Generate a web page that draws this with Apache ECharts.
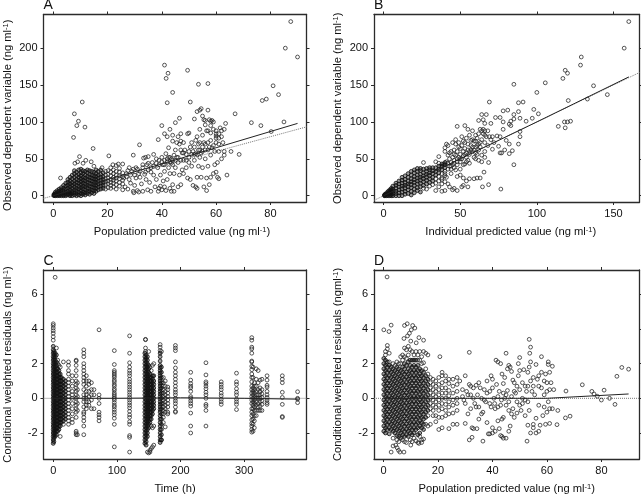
<!DOCTYPE html>
<html>
<head>
<meta charset="utf-8">
<style>html,body{margin:0;background:#fff}#chart{width:641px;height:495px}</style>
<script src="https://cdn.jsdelivr.net/npm/echarts@6/dist/echarts.min.js"></script>
</head>
<body>
<div id="chart"></div>
<script>
const popDenseA = [[0.3,[0,1,2]],[0.8,[0,1,3,5]],[1.5,[0,2,4,7]],[2.2,[0,1,3,6,9]],[3,[0,2,5,8,11]],[3.8,[0,1,4,7,10,14]],[4.6,[0,2,5,9,13,17]],[5.4,[1,3,6,10,14,18,22]],[6.2,[0,2,5,8,12,16,20,25]],[7,[0,3,6,10,14,18,23,28]],[7.8,[1,4,8,12,16,20,25,30,34]],[8.6,[0,3,6,10,14,18,22,27,32]],[9.4,[1,5,9,13,17,21,25,29,35]],[10.2,[0,3,7,11,15,19,23,27,31,36]],[11,[2,5,9,13,17,21,25,30,34]],[11.8,[1,4,8,12,16,20,24,28,33]],[12.6,[3,6,10,14,18,22,26,31,35]],[13.4,[2,6,9,13,17,21,25,29,34]],[14.2,[4,8,12,16,20,24,28,33]],[15,[3,7,11,15,19,23,27,32]],[15.8,[6,10,14,18,22,26,30,35]],[16.6,[8,12,16,20,24,28,33]],[17.5,[9,13,17,21,25,29,35]],[18.4,[10,14,18,22,26,31]]];
const popSparseA = [[19.3,9],[19.3,15],[19.3,19],[19.3,23],[19.3,28],[19.3,33],[20.2,11],[20.2,16],[20.2,20],[20.2,24],[20.2,29],[20.2,34],[21.2,10],[21.2,14],[21.2,18],[21.2,22],[21.2,27],[21.2,32],[21.2,38],[22.2,12],[22.2,17],[22.2,21],[22.2,25],[22.2,30],[22.2,35],[23.2,9],[23.2,15],[23.2,20],[23.2,24],[23.2,28],[23.2,33],[23.2,41],[24.4,13],[24.4,18],[24.4,23],[24.4,27],[24.4,32],[24.4,37],[25.6,8],[25.6,16],[25.6,21],[25.6,26],[25.6,31],[25.6,43],[87.5,236],[85.5,200],[90,188],[41,177],[42.3,166],[41.6,159],[49.5,170],[44,140],[53.5,151],[57,152],[42,126],[50.5,127],[10.7,127],[7.8,111],[9.3,101],[8.7,95],[11.7,93],[7.5,79],[14.7,64],[9.7,53],[2.7,24],[81,149],[83,137],[78.5,131],[77,129],[67,111],[73,99],[76.5,95],[80.3,87],[85,100],[65.5,60],[68.5,56],[63,60],[64,28],[31.8,69],[20.5,54],[29.5,55],[46.5,105],[43,90],[40,95],[41,84],[38.7,76],[45,99],[8,44],[9,46],[11,44],[12,48],[14,46],[15,40],[18,38],[22,42],[24,43],[26,24],[26.5,12],[27,30],[27.5,9],[28,38],[28,22],[28.5,17],[29,33],[29.5,6],[29.7,4],[30,28],[30,14],[30.5,38],[31,36],[31,7],[31.5,5],[32,33],[32,25],[32.5,16],[33,6],[33,38],[33.3,51],[33.7,29],[34,52],[34.2,22],[34.5,42],[34.8,8],[35,35],[35,53],[35.5,18],[36,32],[36,6],[36.5,45],[37,28],[37,56],[37.5,12],[38,44],[38,22],[38.5,38],[38.7,6],[39,48],[39,10],[39.5,13],[39.5,28],[40,52],[40,8],[40.5,42],[40.5,20],[41,48],[41,33],[41,12],[41.5,7],[41.5,57],[42,46],[42,22],[42.5,38],[42.5,65],[43,52],[43,10],[43,30],[43.5,6],[43.5,44],[44,48],[44,74],[44,15],[44.5,6],[44.5,30],[45,62],[45,38],[45.5,72],[45.5,52],[46,80],[46,12],[46,45],[46.5,70],[46.5,28],[47,74],[47,15],[47.5,58],[47.5,35],[48,48],[48,30],[48.5,62],[49,56],[49,38],[49.5,84],[49.5,24],[50,85],[50,60],[50,45],[50.5,22],[51,72],[51,40],[51.5,14],[52,48],[52,66],[52.5,12],[52.5,57],[53,114],[53,80],[53,10],[53,25],[53.5,62],[53.5,40],[54,116],[54,90],[54,72],[54,52],[54.5,118],[54.5,25],[55,108],[55,82],[55,60],[55,38],[55.5,103],[55.5,12],[56,96],[56,70],[56,50],[56.5,7],[56.5,24],[57,116],[57,88],[57,62],[57,40],[57.5,103],[57.5,15],[58,95],[58,75],[58,55],[58,25],[58.5,102],[58.5,65],[59,30],[59,90],[59.5,42],[59.5,60],[60,84],[60,81],[60,72],[60,32],[60.5,25],[60.5,45],[61,84],[61,60],[61,23],[61.5,92],[62,88],[62,50],[63,90],[63,55],[63.5,98],[52,104],[48,72],[47,84],[44,82],[42,80],[56,102],[58,101],[60,78],[27,26],[27.5,34],[28.5,28],[29.5,36],[30.5,24],[31.5,30],[33,42],[34,32],[35,44],[36,38],[37,40],[38,50],[39,42],[40,46],[41,42],[42,50],[42.5,52],[43,46],[43.5,50],[44,42],[44.5,55],[45,48],[46,52],[47,48],[47,62],[48,58],[49,48],[50,52],[50.5,66],[51,56],[51.5,60],[52,56],[52.5,75],[53,56],[53.5,70],[54,62],[54.5,58],[55,66],[55.5,72],[56,62],[56.5,88],[57,72],[57.5,66],[58,85],[59,68],[59,100],[60,88],[61,70],[61,78],[62,80],[62.5,72]];
const popFitA = [[0,0],[20,22],[40,43],[60,65],[90,98]];
const refLineA = [[-3.6,-3.6],[93.3,93.3]];

const indDenseB = [[0.5,[0,1]],[1,[0,1,2]],[2,[0,2,4]],[3,[0,2,4,6]],[4,[0,3,6,8]],[5,[0,2,5,8,10]],[6,[0,3,6,9,13]],[8,[0,3,6,10,14,17]],[10,[0,4,8,12,16,20]],[12,[0,5,9,13,17,21,25]],[14,[2,6,10,14,18,22,27]],[16,[3,8,12,16,20,25,30]],[18,[1,6,11,15,19,23,28,33]],[20,[4,9,14,18,22,26,31,35]],[22,[7,11,16,20,24,28,33,37]],[24,[5,12,17,21,25,29,34,37]],[26,[14,19,23,27,31,36]],[28,[16,21,25,29,33,37]],[30,[18,23,27,31,35,38]],[32,[20,25,30,34,38]],[34,[28,33,38]],[36,[31,36,40]],[38,[35,40,43]],[40,[38,42,45]]];
const indSparseB = [[26,10],[26,45],[28,9],[30,13],[32,15],[34,7],[34,17],[34,23],[34,46],[36,12],[36,20],[36,26],[36,44],[36,53],[38,6],[38,16],[38,24],[38,30],[40,7],[40,19],[40,27],[40,33],[40,60],[160,236],[157,200],[129,188],[128.5,177],[118.5,170],[120,166],[117,159],[85,151],[105.5,153],[100,140],[137,149],[146,137],[133,131],[120.5,129],[69,127],[88,126],[91,127],[98,117],[78,115],[81,116],[88,114],[85,110],[101,111],[97,105],[114,94],[118,100],[120,100],[122,101],[118.5,92],[93,101],[89,105],[85,104],[83,101],[76,106],[73,106],[78,100],[82,97],[83,95],[89,87],[88,70],[89,80],[85,42],[76.5,9],[68.5,15],[64.5,12],[65.5,32],[68.5,45],[84,61],[82,57],[76,58],[77,58],[79,62],[75,67],[48,94],[53,95],[55,90],[58,88],[60,82],[62,102],[64,110],[67,110],[65,103],[66,98],[70,98],[63,90],[66,88],[70,76],[72,72],[74,81],[76,80],[78,90],[80,75],[82,70],[71,63],[68,68],[66,60],[64,55],[62,62],[60,66],[58,60],[56,56],[54,52],[52,60],[50,56],[48,50],[46,62],[44,60],[42,68],[41,70],[40,65],[43,50],[45,72],[47,76],[49,66],[51,80],[53,72],[55,70],[57,75],[59,74],[61,78],[63,72],[65,84],[67,80],[46,48],[44,30],[46,10],[45,8],[48,7],[51,12],[52,14],[55,12],[54,20],[52,24],[50,28],[48,26],[47,35],[42,36],[50,36],[53,43],[56,23],[59,23],[61,24],[63,24],[60,50],[62,48],[64,46],[66,52],[52,42],[54,46],[56,44],[50,46],[48,42],[46,38],[44,45],[42,55],[43,58],[45,52],[47,55],[49,52],[51,50],[53,56],[55,48],[57,62],[59,52],[61,56],[40,30],[38,22],[42,16],[43,12],[41,25],[42,44],[44,40],[46,44],[48,46],[50,50],[52,54],[54,58],[56,60],[58,66],[60,58],[62,70],[64,76],[66,72],[47,70],[49,72],[51,68],[53,64],[55,62],[57,68],[59,62],[61,68],[63,66],[45,42],[43,40],[41,46],[39,42],[44,36],[46,56],[48,60],[50,64],[52,74],[54,78],[56,82],[58,76],[60,74],[62,84],[64,88],[65,90],[66,82],[68,88],[69,80],[71,80]];
const indFitB = [[0,0],[50,50],[100,100],[160,161]];
const refLineB = [[-6.3,-6.3],[167,167]];

const timeDenseC = [
[0,[3,2.8,2.6,2.4,2.2,2,1.8,1.6,1.4,1.2,1,0.8,0.6,0.4,0.2,0,-0.2,-0.4,-0.6,-0.8,-1,-1.2,-1.4,-1.6,-1.8,-2,-2.2,-2.4,-2.6]],
[1,[2.7,2.5,2.3,2.1,1.9,1.7,1.5,1.3,1.1,0.9,0.7,0.5,0.3,0.1,-0.1,-0.3,-0.5,-0.7,-0.9,-1.1,-1.3,-1.5,-1.7,-1.9,-2.1,-2.3,-2.5]],
[3,[2.6,2.4,2.2,2,1.8,1.6,1.4,1.2,1,0.8,0.6,0.4,0.2,0,-0.2,-0.4,-0.6,-0.8,-1,-1.2,-1.4,-1.6,-1.8,-2,-2.2]],
[5,[2.5,2.1,1.9,1.7,1.5,1.3,1.1,0.9,0.7,0.5,0.3,0.1,-0.1,-0.3,-0.5,-0.7,-0.9,-1.1,-1.3,-1.5,-1.7,-1.9,-2.1]],
[7,[1.7,1.5,1.3,1.1,0.9,0.7,0.5,0.3,0.1,-0.1,-0.3,-0.5,-0.7,-0.9,-1.1,-1.3,-1.5,-1.7,-1.9]],
[9,[1.6,1.4,1.2,1,0.8,0.6,0.4,0.2,0,-0.2,-0.4,-0.6,-0.8,-1,-1.2,-1.4,-1.6,-1.8]],
[11,[1.4,1.2,1,0.8,0.6,0.4,0.2,0,-0.2,-0.4,-0.6,-0.8,-1,-1.2,-1.4,-1.6]],
[13,[1.2,1,0.8,0.6,0.4,0.2,0,-0.2,-0.4,-0.6,-0.8,-1,-1.2,-1.4]],
[16,[1.1,0.9,0.7,0.5,0.3,0.1,-0.1,-0.3,-0.5,-0.7,-0.9,-1.1,-1.3]],
[19,[1,0.8,0.6,0.4,0.2,0,-0.2,-0.4,-0.6,-0.8,-1,-1.2]],
[144,[2.6,2.4,2.2,2,1.8,1.6,1.4,1.2,1,0.8,0.6,0.4,0.2,0,-0.2,-0.4,-0.6,-0.8,-1,-1.2,-1.4,-1.6,-1.8,-2,-2.2,-2.4,-2.6]],
[146,[2.5,2.3,2.1,1.9,1.7,1.5,1.3,1.1,0.9,0.7,0.5,0.3,0.1,-0.1,-0.3,-0.5,-0.7,-0.9,-1.1,-1.3,-1.5,-1.7,-1.9,-2.1,-2.3,-2.5,-2.7]],
[148,[2.4,2.2,2,1.8,1.6,1.4,1.2,1,0.8,0.6,0.4,0.2,0,-0.2,-0.4,-0.6,-0.8,-1,-1.2,-1.4,-1.6,-1.8,-2,-2.2]],
[150,[1.9,1.7,1.5,1.3,1.1,0.9,0.7,0.5,0.3,0.1,-0.1,-0.3,-0.5,-0.7,-0.9,-1.1,-1.3,-1.5,-1.7]],
[152,[1.4,1.2,1,0.8,0.6,0.4,0.2,0,-0.2,-0.4,-0.6,-0.8,-1,-1.2,-1.4]],
[154,[1.2,1,0.8,0.6,0.4,0.2,0,-0.2,-0.4,-0.6,-0.8,-1,-1.2]],
[156,[1.3,1.1,0.9,0.7,0.5,0.3,0.1,-0.1,-0.3,-0.5,-0.7,-0.9]],
[158,[1.3,1,0.8,0.6,0.4,0.2,0,-0.2,-0.4,-0.6]],
[168,[2.6,2.4,2.15,1.9,1.75,1.6,1.45,1.3,1.15,1,0.85,0.7,0.55,0.4,0.25,0.1,-0.05,-0.2,-0.35,-0.5,-0.65,-0.8,-1,-1.2,-1.4,-1.6,-1.8,-2,-2.2,-2.4,-2.55]],
[170,[1.8,1.5,1.2,0.9,0.6,0.3,0,-0.3,-0.6,-0.9,-1.2,-1.5,-1.8,-2.1,-2.4]]
];
const timeStripsC = [
[0,[4.3,4.2,4.05,3.9,3.75,3.55,3.35]],
[3,[6.98]],
[5,[2.9]],
[7,[2.2,2]],
[9,[1.9]],
[11,[1.8,-2.2]],
[16,[2.1,-1.5]],
[24,[2.1,1.9,1.6,1.4,1.1,0.9,0.7,0.5,0.3,0.1,-0.1,-0.3,-0.5,-0.7,-0.9,-1.1,-1.3,-1.5]],
[30,[1.3,1,0.7,0.4,0.2,0,-0.3,-0.6,-0.9,-1.2,-1.4]],
[36,[2.2,2.15,1.9,1.6,1.3,1,0.8,0.6,0.4,0.2,0,-0.2,-0.4,-0.6,-0.8,-1.1,-1.9,-2,-2.1]],
[38,[0.9,0.5,0.1,-0.3,-0.7,-2.1]],
[48,[2.8,2.6,2.4,2,1.8,1.6,1.4,1.2,1,0.8,0.5,0.2,0,-0.2,-0.5,-0.8,-0.9,-1.1,-1.3,-1.6,-2.1]],
[52,[1.3,1,0.7,0.4,0.2,0,-0.2,-0.4,-0.6]],
[56,[1,0.8,0.4,0.1,-0.2,-0.4]],
[60,[0.9,0.5,0.2,-0.1,-0.6]],
[64,[0.5,0.2,-0.6]],
[72,[3.95,0.2,0,-0.3,-0.8,-0.95,-1.1,-1.3]],
[96,[2.75,1.95,1.6,1.5,1.4,1.3,1.2,1.05,0.95,0.8,0.7,0.55,0.45,0.3,0.2,0.1,0,-0.1,-0.25,-0.4,-0.5,-0.65,-0.8,-0.95,-1.15,-1.5,-2.8]],
[120,[3.6,2.6,2.05,1.8,1.6,1.45,1.3,1.1,0.95,0.8,0.65,0.5,0.35,0.2,0.05,-0.1,-0.25,-0.4,-0.55,-0.75,-0.95,-1.1,-1.35,-1.5,-2.15,-2.25,-3.1]],
[145,[3.4,3.38,2.9,2.7]],
[148,[-3.1]],
[150,[2.7,-3.15]],
[152,[1.8,-3.1,-3]],
[154,[1.6,-1.6,-2.9]],
[156,[1.9,-1.7,-2.8]],
[158,[2,-1.6,-2.7]],
[168,[3.1,2.95,2.75]],
[170,[2.7,-2.4]],
[173,[1.2,0.9,0.7,0.5,0.3,0.1,-0.1,-0.3,-0.5,-0.7,-0.9,-1.1,-1.4]],
[176,[1,0.7,0.4,0.2,0,-0.2,-0.4,-0.6,-0.8,-1.65]],
[180,[0.65,0.5,0.3,0.1,-0.1,-0.3,-0.5,-0.8,-0.9]],
[192,[3.05,2.9,2.75,2.1,1.75,1.5,1.3,1.1,0.9,0.7,0.5,0.35,0.2,0,-0.15,-0.3,-0.5,-0.75,-0.8]],
[216,[1.5,1.05,0.85,0.7,0.6,0.4,0.1,0,-0.15,-0.3,-0.45,-0.85,-1.6,-2]],
[240,[2.05,1.35,0.95,0.85,0.7,0.55,0.35,0.2,0,-0.35,-0.45,-0.7,-1.6]],
[264,[0.95,0.8,0.65,0.5,0.3,0.15,-0.05,-0.2,-0.35]],
[288,[1.45,0.95,0.8,0.55,0.35,0.2,-0.05,-0.2,-0.35,-0.65]],
[312,[3.5,3.35,2.95,2.85,2.6,2.15,2.1,1.85,1.65,1.4,1.2,0.95,0.7,0.5,0.3,0.1,-0.1,-0.3,-0.6,-0.8,-1,-1.25,-1.45,-1.6,-1.8,-1.95]],
[314,[1.8,1.2,0.6,0.4,0.2,0,-0.2,-0.4,-0.6,-0.9,-1.2,-1.5,-1.9]],
[316,[0.9,0.7,0.5,0.3,0.1,-0.1,-0.3,-0.5,-0.7,-1,-1.3,-1.7]],
[319,[1.7,1.1,0.7,0.4,0.2,0,-0.2,-0.4,-0.7,-1]],
[322,[1.6,0.9,0.5,0.2,0,-0.3,-0.5,-0.7]],
[325,[1.05,0.6,0.4,0.2,0,-0.2,-0.45,-0.7]],
[328,[1.1,0.5,0.25,0.05,-0.15,-0.35,-0.7]],
[336,[1.3,1.05,0.75,0.65,0.4,0.2,0.05,-0.1,-0.25,-0.35]],
[360,[1.3,1.1,0.9,0.35,0.05,-0.35,-1.05,-1.1]],
[384,[0.38,0,-0.05,-0.25]]
];
const timeFitC = [[0,0],[100,0],[200,0.03],[300,0],[385,-0.05]];
const zeroLineC = [[-15.3,0],[398,0]];

const popDenseD = [
[0.1,[2.3,2,1.7,1.4,1.1,0.8,0.5,0.2,-0.1,-0.4,-0.7,-1,-1.3,-1.6,-1.9]],
[0.7,[2.2,1.9,1.6,1.3,1,0.7,0.4,0.1,-0.2,-0.5,-0.8,-1.1,-1.4,-1.7,-2]],
[1.4,[2.1,1.8,1.5,1.2,0.9,0.6,0.3,0,-0.3,-0.6,-0.9,-1.2,-1.5,-1.8]],
[2.1,[1.9,1.6,1.3,1,0.7,0.4,0.1,-0.2,-0.5,-0.8,-1.1,-1.4,-1.7,-2.05]],
[2.8,[1.8,1.5,1.2,0.9,0.6,0.3,0,-0.3,-0.6,-0.9,-1.2,-1.5,-1.8]],
[3.5,[1.7,1.4,1.1,0.8,0.5,0.2,-0.1,-0.4,-0.7,-1,-1.3,-1.6,-1.9]],
[4.2,[1.6,1.3,1,0.7,0.4,0.1,-0.2,-0.5,-0.8,-1.1,-1.4,-1.7,-2]],
[4.9,[1.8,1.5,1.2,0.9,0.6,0.3,0,-0.3,-0.6,-0.9,-1.2,-1.5,-1.8,-2.15]],
[5.6,[1.7,1.4,1.1,0.8,0.5,0.2,-0.1,-0.4,-0.7,-1,-1.3,-1.6,-1.9,-2.2]],
[6.3,[1.6,1.3,1,0.7,0.4,0.1,-0.2,-0.5,-0.8,-1.1,-1.4,-1.7,-2,-2.3]],
[7,[1.8,1.5,1.2,0.9,0.6,0.3,0,-0.3,-0.6,-0.9,-1.2,-1.5,-1.8,-2.1]],
[7.7,[2,1.7,1.4,1.1,0.8,0.5,0.2,-0.1,-0.4,-0.7,-1,-1.3,-1.6,-1.9,-2.2]],
[8.4,[1.9,1.5,1.2,0.9,0.6,0.3,0,-0.3,-0.6,-0.9,-1.2,-1.5,-1.8,-2.1]],
[9.1,[2.1,1.7,1.4,1.1,0.8,0.5,0.2,-0.1,-0.4,-0.7,-1,-1.3,-1.6,-1.9,-2.2]],
[9.8,[2.2,1.9,1.6,1.3,1,0.7,0.4,0.1,-0.2,-0.5,-0.8,-1.1,-1.4,-1.7,-2]],
[10.5,[2.2,1.8,1.5,1.2,0.9,0.6,0.3,0,-0.3,-0.6,-0.9,-1.2,-1.5,-1.8,-2.1]],
[11.2,[2.2,1.9,1.6,1.3,1,0.7,0.4,0.1,-0.2,-0.5,-0.8,-1.1,-1.4,-1.7,-2]],
[11.9,[2.2,1.8,1.5,1.2,0.9,0.6,0.3,0,-0.3,-0.6,-0.9,-1.2,-1.5,-1.8]],
[12.6,[1.9,1.6,1.3,1,0.7,0.4,0.1,-0.2,-0.5,-0.8,-1.1,-1.4,-1.7,-2.1]],
[13.3,[1.7,1.4,1.1,0.8,0.5,0.2,-0.1,-0.4,-0.7,-1,-1.3,-1.6,-2]],
[14,[1.6,1.3,1,0.7,0.4,0.1,-0.2,-0.5,-0.8,-1.1,-1.4,-1.7]],
[14.7,[1.5,1.2,0.9,0.6,0.3,0,-0.3,-0.6,-0.9,-1.2,-1.5,-1.8]],
[15.5,[1.3,1,0.7,0.4,0.1,-0.2,-0.5,-0.8,-1.1]],
[16.3,[1.1,0.8,0.5,0.2,-0.1,-0.4,-0.7]]
];
const popSparseD = [[0.1,3.95],[0.7,2.7],[0.7,2.5],[1.4,3.05],[1.4,2.85],[2.1,2.6],[2.1,2.1],[3.5,2],[3.5,-2.3],[4.2,1.9],[4.9,2.1],[4.9,-2.4],[5.6,2],[5.6,-2.5],[6.3,2.4],[6.3,2],[7,2.5],[7,2.2],[7,-2.4],[7.7,2.9],[7.7,2.4],[7.7,-2.5],[8.4,2.8],[8.4,2.3],[8.4,-2.55],[9.1,3],[9.1,2.5],[9.8,2.8],[9.8,-2.4],[10.5,2.7],[10.5,-2.5],[11.2,2.5],[11.2,-2.3],[11.9,2.7],[11.9,-2.45],[12.6,2.5],[12.6,2.2],[12.6,-2.55],[13.3,2.7],[13.3,2.2],[13.3,-2.2],[14,2.4],[14,2],[14,-2.4],[14.7,2.7],[14.7,2.05],[14.7,-2.35],[15.5,2.6],[15.5,1.7],[15.5,-1.5],[16.3,2.5],[16.3,1.4],[16.3,-1],[16.3,-1.6],[17.2,1.2],[17.2,0.9],[17.2,0.6],[17.2,0.3],[17.2,0],[17.2,-0.3],[17.2,-0.6],[17.2,-1.5],[18.2,1.1],[18.2,0.8],[18.2,0.5],[18.2,0.2],[18.2,-0.1],[18.2,-0.4],[18.2,-0.7],[18.2,-1],[19.2,1],[19.2,0.7],[19.2,0.4],[19.2,0.1],[19.2,-0.2],[19.2,-0.5],[19.2,-1],[19.2,-1.35],[20.3,1.2],[20.3,0.8],[20.3,0.5],[20.3,0.2],[20.3,-0.1],[20.3,-0.4],[20.3,-0.7],[20.3,-1.1],[20.3,-1.8],[21.5,1.5],[21.5,1.3],[21.5,0.9],[21.5,0.6],[21.5,0.3],[21.5,0],[21.5,-0.3],[21.5,-0.6],[21.5,-1.1],[21.5,-1.7],[22.8,1.3],[22.8,1],[22.8,0.6],[22.8,0.3],[22.8,0],[22.8,-0.35],[22.8,-0.7],[22.8,-1],[24,1.1],[24,0.85],[24,0.45],[24,0.15],[24,-0.2],[24,-0.5],[24,-0.9],[24,-1.75],[25.5,1.1],[25.5,0.7],[25.5,0.3],[25.5,-0.1],[25.5,-0.4],[25.5,-0.85],[25.5,-1.5],[27,1.2],[27,0.8],[27,0.4],[27,0],[27,-0.3],[27,-0.7],[27,-1.5],[1.3,7],[2,3.85],[2.8,4.22],[7.7,4.2],[8.7,4.3],[10.7,4.2],[11.5,4.05],[10.2,3.95],[9.5,3.75],[8.8,3.6],[7.5,3.45],[13,3.5],[14.7,3.35],[12,3.2],[10,3.3],[31.5,2.65],[45,2.6],[20.7,2.4],[53.5,3.4],[54,2.95],[53.7,2.6],[50,2.35],[58,2.4],[60.5,2.1],[60.5,1.95],[62,1.85],[73,0.78],[76.5,0.4],[77.3,0.25],[78.5,0.12],[80,-0.1],[81,0.47],[83,0],[85,-0.35],[85.7,1.27],[87.5,1.78],[90,1.68],[67,0.42],[66.8,-1.13],[68.5,-1.03],[63.7,-1.52],[64,-0.7],[52.7,-2.47],[36.5,-2.47],[32.5,-2.25],[31.5,-2.4],[2.8,-3.1],[3.5,-2.75],[4.5,-2.7],[5,-2.85],[5.5,-3],[6,-3.1],[7.5,-3.1],[10,-2.7],[13,-2.6],[14,-2.55],[28,1],[29,0.5],[29.5,-0.1],[30,1.3],[30,-1.45],[30.5,0.4],[31,-0.9],[31.5,0.8],[32,0.2],[32,-0.6],[32.5,-1.7],[33,0.6],[33,-1.75],[33.5,-0.3],[34,0.75],[34.3,-1.75],[34.5,0.2],[35,-0.5],[35,-1.2],[35.5,0.6],[36,0],[36.5,-0.8],[37,0.5],[37.5,-0.2],[38,1],[38,-1.4],[38.5,-2.05],[39,0.4],[39,-2.05],[39.5,1.3],[39.5,-0.5],[40,1.1],[40,-1.7],[40,-2],[40.5,0],[40.8,-0.3],[41,-1.9],[41.3,2.2],[41.5,0.8],[42,2.1],[42,-0.5],[42,-1.3],[42.5,0.4],[42.5,-1.75],[43,2],[43,-2.15],[43.3,-0.1],[43.5,1.4],[43.5,-1.2],[43.5,-2.2],[44,0.85],[44,-1.1],[44,-2.3],[44.5,1.2],[44.5,0],[45,-0.4],[45,-2.3],[45.5,1.7],[45.5,0.45],[46,1.9],[46,-0.7],[46,-1.9],[46.5,1.8],[46.5,-1.6],[47,1.55],[47,0.1],[47.5,1.05],[47.5,-0.6],[48,0.9],[48,-1.1],[48.5,0.3],[49,-0.2],[49,-0.85],[49.5,2],[49.5,1.3],[50,1.6],[50,0.5],[50,-0.4],[50.5,-0.7],[51,0.9],[51,0],[51.5,1.65],[52,-0.1],[52,0.7],[52,-1],[52.5,0.4],[53,1.5],[53,-1.55],[53,0.7],[53.5,1.8],[53.5,-0.7],[54,2.1],[54,1],[54,-2],[54.5,0.4],[55,1.2],[55,-1.5],[55,-1.7],[55.5,0.2],[56,1.95],[56,-2],[56,-1.15],[56.5,1.1],[57,0.7],[57,-1.9],[57,-0.4],[57.5,-1.55],[58,1.5],[58,0.6],[58.5,-1],[59,0.2],[59,-0.5],[59.5,1.4],[59.5,-1.5],[60,0.9],[60,-0.8],[60.5,-0.2],[61,1.5],[61,0.5],[61,-1.45],[61.5,0.9],[62,-0.6],[62.5,0.5],[29,0.1],[30,-0.3],[31,0.2],[32,0.7],[33,0],[34,-0.5],[35,0.9],[36,-0.9],[37,-0.1],[38,0.3],[39,-0.3],[40,0.6],[41,-0.6],[42,0.1],[43,-0.4],[44,0.3],[45,0.2],[46,-0.2],[47,-0.9],[48,0.4],[49,0.7],[51,-0.3],[53,-0.2],[55,0.7],[57,1.3],[59,1],[60,0.4],[61,-0.6]];
const popFitD = [[0,0],[30,0],[60,0],[90,0.25]];
const zeroLineD = [[-3.5,0],[94,0]];

const popTicks = [0, 20, 40, 60, 80];
const indTicks = [0, 50, 100, 150];
const timeTicks = [0, 100, 200, 300];
const obsTicks = [0, 50, 100, 150, 200];
const cwresTicks = [-2, 0, 2, 4, 6];

const expand = cols => cols.flatMap(c => c[1].map(y => [c[0], y]));

const font = 'Liberation Sans';
const ink = '#2b2b2b';

const panels = [
  { label: 'A', left: 43.5, top: 14.5, width: 263, height: 187.5, xMin: -3.57, xMax: 93.3, yMin: -8.5, yMax: 245.6,
    xTicks: popTicks, yTicks: obsTicks, xName: 'Population predicted value (ng ml{s|-1})', yName: 'Observed dependent variable (ng ml{s|-1})',
    dense: expand(popDenseA), open: popSparseA, fit: popFitA, ref: refLineA, xPad: [0, 0, 0, 14], yPad: [0, 14, 0, 0] },
  { label: 'B', left: 374, top: 14.5, width: 265.5, height: 187.5, xMin: -6.3, xMax: 167, yMin: -8.5, yMax: 245.6,
    xTicks: indTicks, yTicks: obsTicks, xName: 'Individual predicted value (ng ml{s|-1})', yName: 'Observed dependent variable (ng ml{s|-1})',
    dense: expand(indDenseB), open: indSparseB, fit: indFitB, ref: refLineB, xPad: [0, 0, 0, 8], yPad: [0, 0, 0, 0] },
  { label: 'C', left: 43.5, top: 270, width: 263, height: 189, xMin: -15.3, xMax: 398, yMin: -3.5, yMax: 7.4,
    xTicks: timeTicks, yTicks: cwresTicks, xName: 'Time (h)', yName: 'Conditional weighted residuals (ng ml{s|-1})',
    dense: expand(timeDenseC), open: expand(timeStripsC), fit: timeFitC, ref: zeroLineC, xPad: [0, 0, 0, 0], yPad: [0, 0, 0, 0] },
  { label: 'D', left: 374, top: 270, width: 265.5, height: 189, xMin: -3.5, xMax: 94, yMin: -3.5, yMax: 7.4,
    xTicks: popTicks, yTicks: cwresTicks, xName: 'Population predicted value (ng ml{s|-1})', yName: 'Conditional weighted residuals (ngml{s|-1})',
    dense: expand(popDenseD), open: popSparseD, fit: popFitD, ref: zeroLineD, xPad: [0, 0, 0, 0], yPad: [0, 0, 0, 0] }
];

const nameStyle = pad => ({
  fontFamily: font, fontSize: 11.2, color: '#111', padding: pad,
  rich: { s: { fontFamily: font, fontSize: 7.5, color: '#111', verticalAlign: 'top', lineHeight: 12 } }
});

const axisBase = (min, max, ticks, gridIndex) => ({
  type: 'value', gridIndex, min, max, scale: true, splitLine: { show: false },
  axisLine: { onZero: false, lineStyle: { color: ink, width: 1.3 } },
  axisTick: { length: 3, customValues: ticks, lineStyle: { color: ink, width: 1 } },
  axisLabel: { customValues: ticks, fontFamily: font, fontSize: 11, color: '#111', margin: 6 }
});

const grid = [], xAxis = [], yAxis = [], series = [], title = [];

panels.forEach((p, i) => {
  grid.push({ left: p.left, top: p.top, width: p.width, height: p.height, outerBoundsMode: 'none' });
  title.push({ text: p.label, left: p.left, top: p.top - 16, padding: 0,
    textStyle: { fontFamily: font, fontSize: 14, fontWeight: 'normal', color: '#111' } });

  const xa = axisBase(p.xMin, p.xMax, p.xTicks, i);
  xAxis.push(Object.assign({}, xa, { position: 'bottom', name: p.xName, nameLocation: 'middle', nameGap: 24, nameTextStyle: nameStyle(p.xPad) }));
  xAxis.push(Object.assign({}, xa, { position: 'top', axisLabel: { show: false } }));

  const ya = axisBase(p.yMin, p.yMax, p.yTicks, i);
  yAxis.push(Object.assign({}, ya, { position: 'left', name: p.yName, nameLocation: 'middle', nameGap: 30, nameRotate: 90, nameTextStyle: nameStyle(p.yPad) }));
  yAxis.push(Object.assign({}, ya, { position: 'right', axisLabel: { show: false } }));

  const xAxisIndex = i * 2, yAxisIndex = i * 2;
  series.push({ type: 'line', xAxisIndex, yAxisIndex, data: p.ref, showSymbol: false, silent: true, z: 1,
    lineStyle: { color: '#777', width: 1, type: 'dotted' } });
  series.push({ type: 'scatter', xAxisIndex, yAxisIndex, data: p.open, symbol: 'circle', symbolSize: 3.8, silent: true, z: 2,
    itemStyle: { color: 'transparent', borderColor: '#222', borderWidth: 0.9, opacity: 0.85 } });
  series.push({ type: 'scatter', xAxisIndex, yAxisIndex, data: p.dense, symbol: 'circle', symbolSize: 3.8, silent: true, z: 2,
    itemStyle: { color: 'rgba(20,20,20,0.45)', borderColor: '#111', borderWidth: 0.9, opacity: 0.9 } });
  series.push({ type: 'line', xAxisIndex, yAxisIndex, data: p.fit, showSymbol: false, silent: true, z: 3,
    lineStyle: { color: '#222', width: 1 } });
});

const chart = echarts.init(document.getElementById('chart'), null, { renderer: 'canvas' });
chart.setOption({ animation: false, backgroundColor: '#fff', title, grid, xAxis, yAxis, series });
</script>
</body>
</html>
